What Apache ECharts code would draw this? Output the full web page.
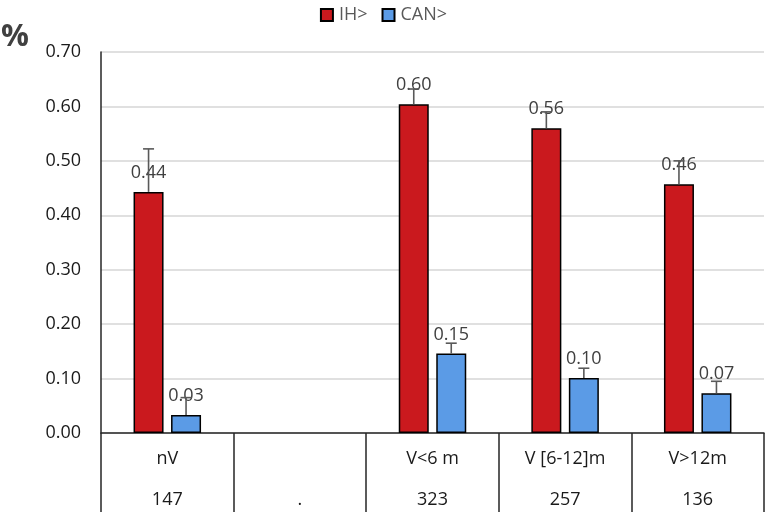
<!DOCTYPE html>
<html>
<head>
<meta charset="utf-8">
<script src="https://cdn.jsdelivr.net/npm/echarts@6/dist/echarts.min.js"></script>
<style>html,body{margin:0;padding:0;background:#fff;}#c{width:767px;height:514px;}</style>
</head>
<body>
<div id="c"></div>
<script>
const categories = ['nV', '', 'V<6 m', 'V [6-12]m', 'V>12m'];
const counts = ['147', '.', '323', '257', '136'];
const seriesNames = ['IH>', 'CAN>'];
const ihValues = [0.443, null, 0.604, 0.560, 0.457];
const ihUpper = [0.522, null, 0.632, 0.590, 0.500];
const canValues = [0.033, null, 0.146, 0.101, 0.073];
const canUpper = [0.065, null, 0.165, 0.119, 0.095];
const yTicks = [0, 0.1, 0.2, 0.3, 0.4, 0.5, 0.6, 0.7];

const FONT = '"Open Sans", "Noto Sans", sans-serif';
const BAR_W = 30, GAP = 7.5;

function errSeries(values, upper, side) {
  const data = values.map((v, i) => [i, v, upper[i]]).filter(d => d[1] != null);
  return {
    type: 'custom',
    z: 3,
    silent: true,
    renderItem: function (params, api) {
      const i = api.value(0);
      const p0 = api.coord([i, api.value(1)]);
      const p1 = api.coord([i, api.value(2)]);
      const x = p0[0] + side * (BAR_W + GAP) / 2;
      const style = { stroke: '#595959', lineWidth: 1.6 };
      return {
        type: 'group',
        children: [
          { type: 'line', shape: { x1: x, y1: p0[1], x2: x, y2: p1[1] }, style: style },
          { type: 'line', shape: { x1: x - 5.5, y1: p1[1], x2: x + 5.5, y2: p1[1] }, style: style }
        ]
      };
    },
    data: data
  };
}

function barSeries(name, values, color) {
  return {
    name: name,
    type: 'bar',
    barWidth: BAR_W,
    barGap: '25%',
    z: 2,
    itemStyle: { color: color, borderColor: '#000', borderWidth: 1.5 },
    label: {
      show: true, position: 'top', distance: 10,
      formatter: p => p.value == null ? '' : p.value.toFixed(2),
      color: '#404040', fontSize: 18, fontFamily: FONT
    },
    data: values
  };
}

const chart = echarts.init(document.getElementById('c'), null, { renderer: 'canvas' });
chart.setOption({
  animation: false,
  backgroundColor: '#fff',
  graphic: [{
    type: 'text', left: 1, top: 22,
    style: { text: '%', font: 'bold 31px ' + FONT, fill: '#404040' }
  }],
  legend: {
    data: seriesNames,
    top: 1, left: 'center',
    itemWidth: 12, itemHeight: 12, itemGap: 14,
    icon: 'rect',
    textStyle: { color: '#595959', fontSize: 18, fontFamily: FONT, padding: [0, 0, 0, 1] }
  },
  grid: { left: 101, right: 3, top: 52, bottom: 81, containLabel: false },
  xAxis: {
    type: 'category',
    data: categories,
    boundaryGap: true,
    axisLine: { show: true, lineStyle: { color: '#262626', width: 1.5 } },
    axisTick: { show: true, length: 79, lineStyle: { color: '#262626', width: 1.5 } },
    axisLabel: {
      interval: 0, margin: 6,
      formatter: (v, i) => '{a|' + (v || ' ') + '}\n{b|' + counts[i] + '}',
      rich: {
        a: { lineHeight: 40, fontSize: 18, color: '#1a1a1a', fontFamily: FONT },
        b: { lineHeight: 42, fontSize: 18, color: '#1a1a1a', fontFamily: FONT }
      }
    },
    splitLine: { show: false }
  },
  yAxis: {
    type: 'value', min: 0, max: 0.7, interval: 0.1,
    axisLine: { show: true, lineStyle: { color: '#262626', width: 1.5 } },
    axisTick: { show: false },
    axisLabel: { margin: 20, formatter: v => v.toFixed(2), color: '#1a1a1a', fontSize: 18, fontFamily: FONT },
    splitLine: { lineStyle: { color: '#d6d6d6', width: 1.5 } }
  },
  series: [
    barSeries(seriesNames[0], ihValues, '#CA191E'),
    barSeries(seriesNames[1], canValues, '#5B9BE6'),
    errSeries(ihValues, ihUpper, -1),
    errSeries(canValues, canUpper, 1)
  ]
});
</script>
</body>
</html>
